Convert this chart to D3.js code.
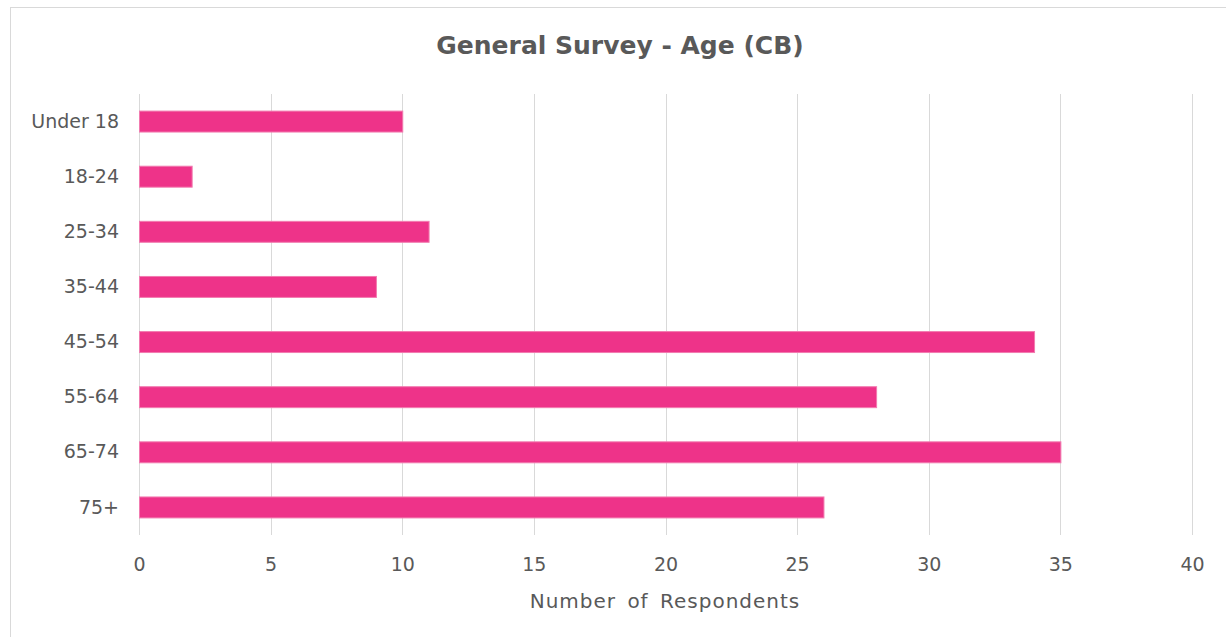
<!DOCTYPE html>
<html>
<head>
<meta charset="utf-8">
<script src="https://cdn.jsdelivr.net/npm/d3@7"></script>
<style>
  body { margin: 0; background: #fff; }
  text { font-family: "DejaVu Sans", sans-serif; fill: #595959; }
</style>
</head>
<body>
<div id="main"></div>
<script>
// data
const categories = ['Under 18', '18-24', '25-34', '35-44', '45-54', '55-64', '65-74', '75+'];
const respondents = [10, 2, 11, 9, 34, 28, 35, 26];
const xTicks = [0, 5, 10, 15, 20, 25, 30, 35, 40];

const width = 1226, height = 637;
const plotLeft = 139, plotRight = 1192, plotTop = 94, plotBottom = 535;

const svg = d3.select('#main')
  .append('svg')
  .attr('width', width)
  .attr('height', height);

// chart border (only top and left visible in the crop)
svg.append('rect')
  .attr('x', 10.5)
  .attr('y', 7.5)
  .attr('width', width + 20)
  .attr('height', height + 20)
  .attr('fill', 'none')
  .attr('stroke', '#d9d9d9');

const xScale = d3.scaleLinear().domain([0, 40]).range([plotLeft, plotRight]);
const yScale = d3.scaleBand().domain(categories).range([plotTop, plotBottom]).paddingInner(0.62).paddingOuter(0.31);

// gridlines
svg.append('g')
  .selectAll('line')
  .data(xTicks)
  .join('line')
    .attr('x1', d => Math.round(xScale(d)) + 0.5)
    .attr('x2', d => Math.round(xScale(d)) + 0.5)
    .attr('y1', plotTop)
    .attr('y2', plotBottom)
    .attr('stroke', '#d9d9d9')
    .attr('stroke-width', 1);

// bars
svg.append('g')
  .selectAll('rect')
  .data(categories.map((c, i) => ({ c: c, v: respondents[i] })))
  .join('rect')
    .attr('x', xScale(0) + 0.5)
    .attr('y', d => yScale(d.c))
    .attr('width', d => xScale(d.v) - xScale(0))
    .attr('height', yScale.bandwidth())
    .attr('fill', '#ee3389')
    .attr('stroke', '#f27bb0')
    .attr('stroke-width', 1);

// x axis labels
const xAxis = d3.axisBottom(xScale).tickValues(xTicks).tickSize(0).tickPadding(0);
const gx = svg.append('g')
  .attr('transform', `translate(0,${plotBottom + 22})`)
  .call(xAxis);
gx.select('.domain').remove();
gx.selectAll('text')
  .attr('font-size', 19)
  .attr('font-family', null)
  .attr('fill', '#595959');

// y axis labels
const yAxis = d3.axisLeft(yScale).tickSize(0).tickPadding(20);
const gy = svg.append('g')
  .attr('transform', `translate(${plotLeft},0)`)
  .call(yAxis);
gy.select('.domain').remove();
gy.selectAll('text')
  .attr('font-size', 19)
  .attr('font-family', null)
  .attr('fill', '#595959');

// title
svg.append('text')
  .attr('x', 620)
  .attr('y', 54)
  .attr('text-anchor', 'middle')
  .attr('font-size', 25)
  .attr('font-weight', 'bold')
  .text('General Survey - Age (CB)');

// axis title
svg.append('text')
  .attr('x', 665)
  .attr('y', 608)
  .attr('text-anchor', 'middle')
  .attr('font-size', 20)
  .attr('letter-spacing', 1)
  .attr('word-spacing', 4)
  .text('Number of Respondents');
</script>
</body>
</html>
